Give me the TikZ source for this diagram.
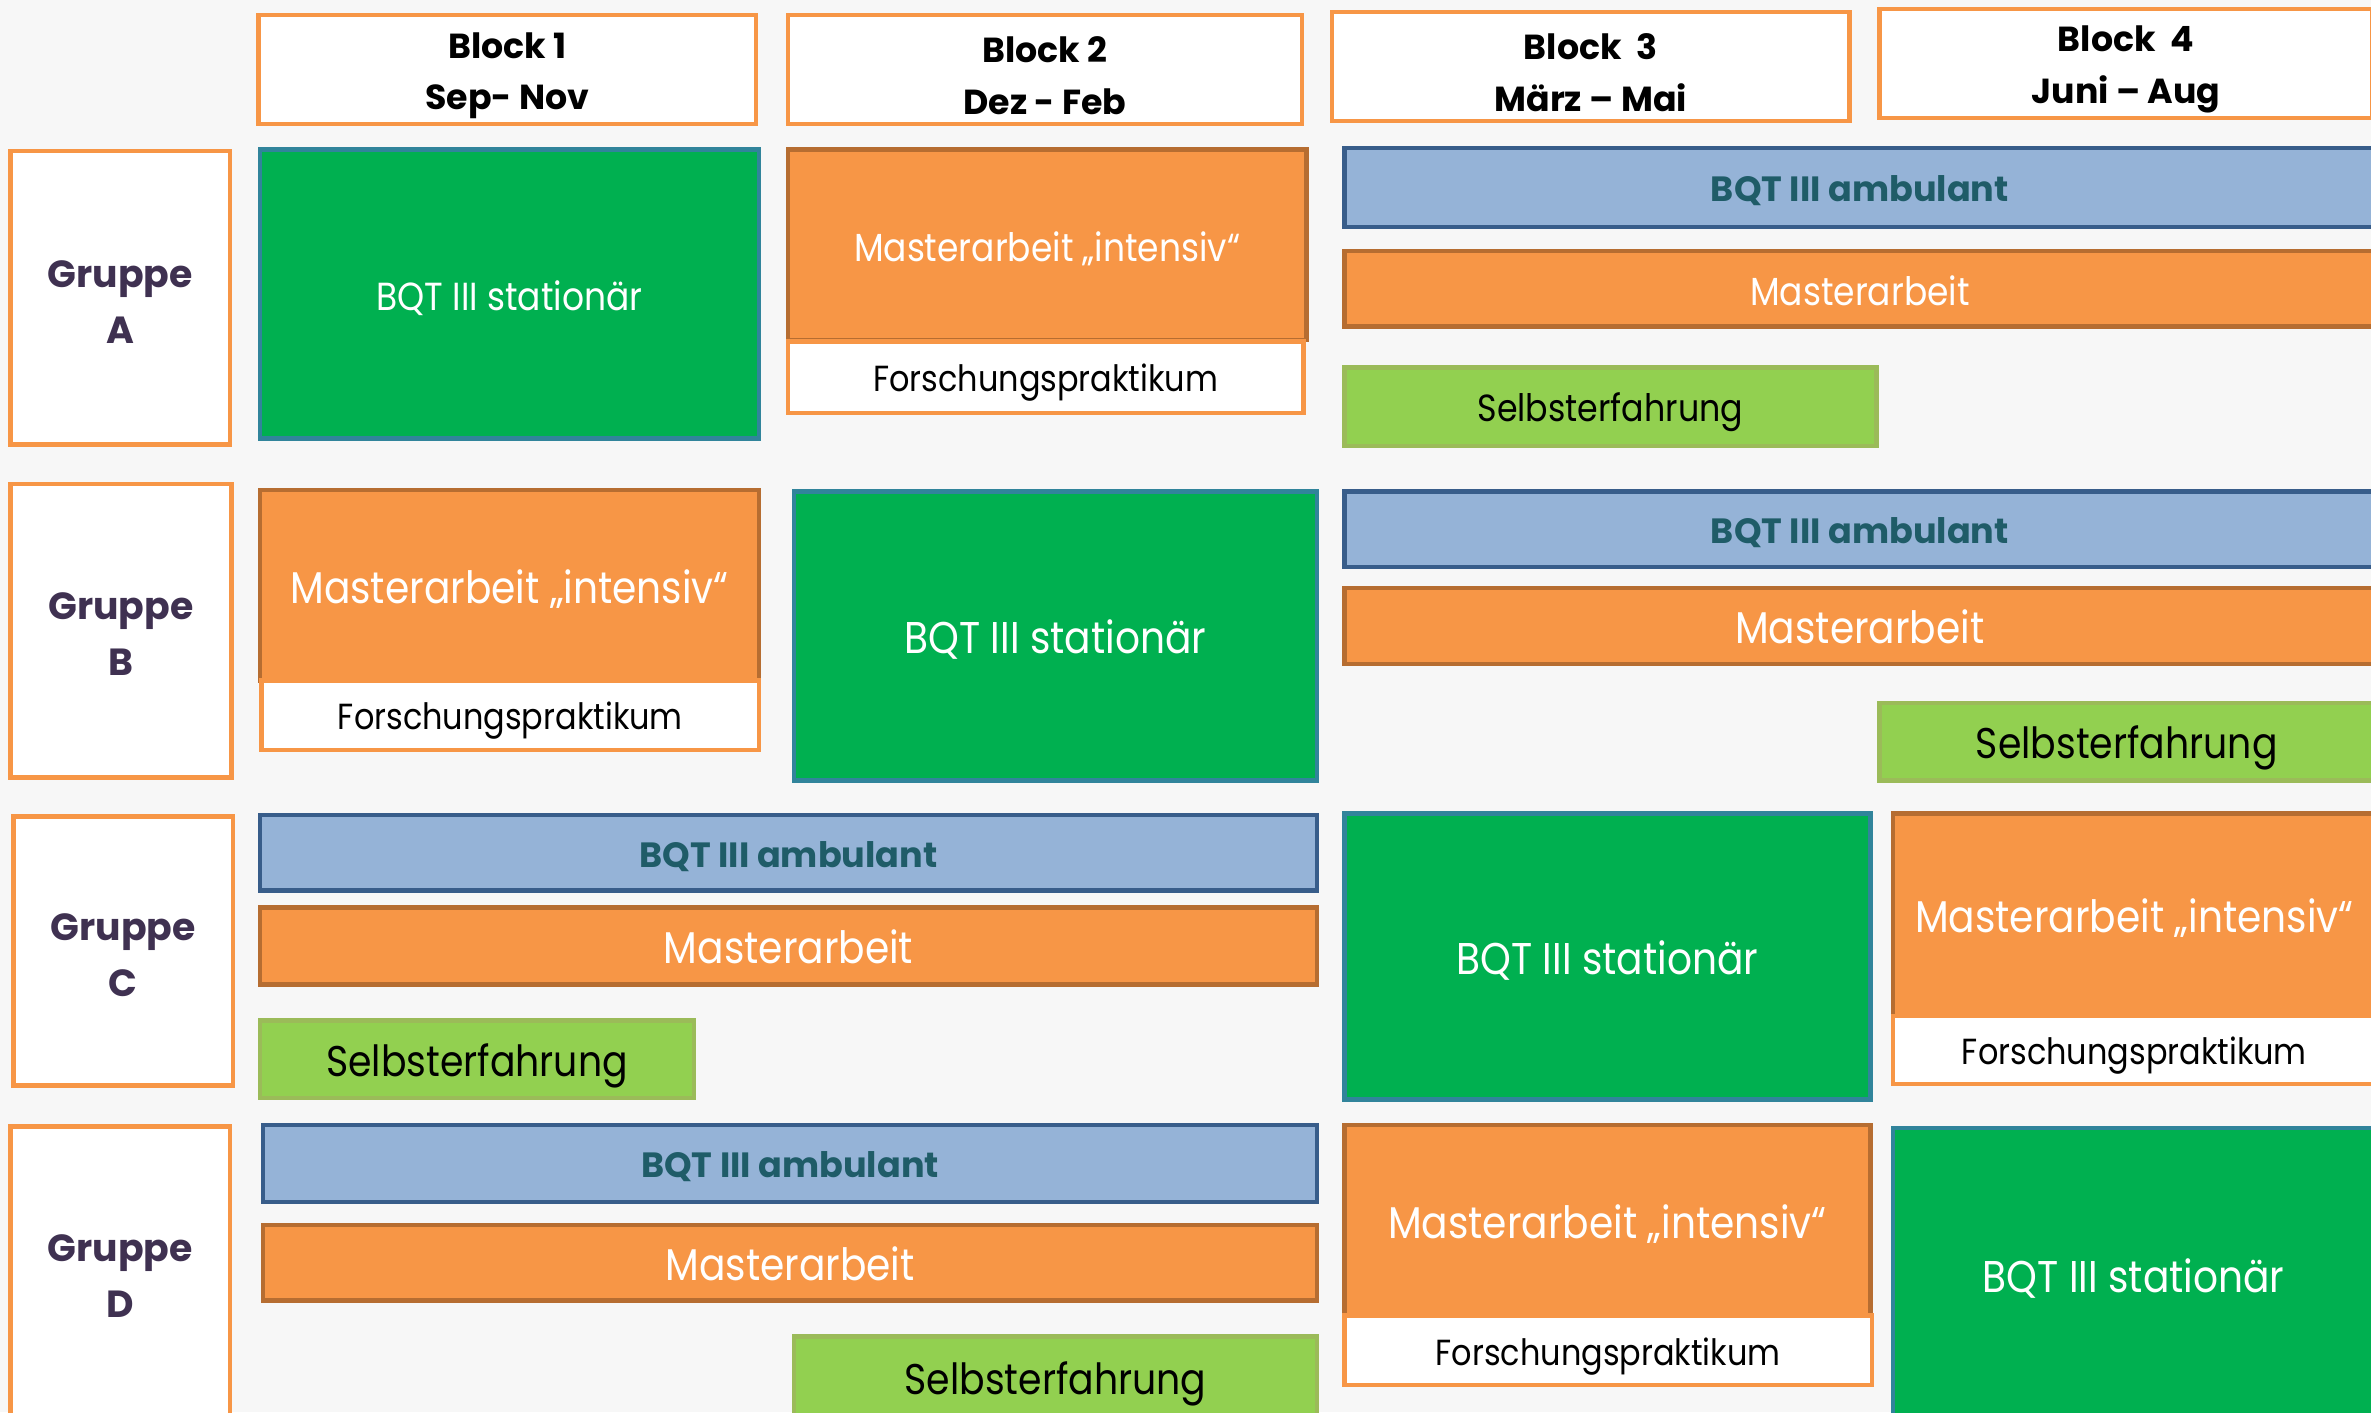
\documentclass[tikz,border=0pt]{standalone}
\usepackage{fontspec}
\setmainfont{Poppins}[FakeStretch=0.88]
\newfontfamily\boldfam{Poppins}
\definecolor{bgcol}{HTML}{F7F7F7}
\definecolor{hdorange}{HTML}{F79646}
\definecolor{grptext}{HTML}{3F3151}
\definecolor{statfill}{HTML}{00B050}
\definecolor{statline}{HTML}{31849B}
\definecolor{orfill}{HTML}{F79646}
\definecolor{orline}{HTML}{B66D31}
\definecolor{ambfill}{HTML}{95B3D7}
\definecolor{ambline}{HTML}{385D8A}
\definecolor{ambtext}{HTML}{1F5C68}
\definecolor{sefill}{HTML}{92D050}
\definecolor{seline}{HTML}{9BBB59}

\newcommand{\toprule}[1]{\rule{0pt}{#1pt}}

\tikzset{
  every node/.style={inner sep=0pt, outer sep=0pt, align=center},
  wh/.style 2 args={minimum width=#1pt, minimum height=#2pt, anchor=north west},
  oneline/.style={text depth=0pt, text height=#1pt},
  hdbox/.style={draw=hdorange, fill=white, line width=3pt,
    font=\boldfam\bfseries\fontsize{23}{34}\selectfont},
  grpbox/.style={draw=hdorange, fill=white, line width=3pt, text=grptext,
    font=\boldfam\bfseries\fontsize{25}{37}\selectfont},
  statbox/.style={draw=statline, fill=statfill, line width=3pt, text=white},
  intbox/.style={draw=orline, fill=orfill, line width=3pt, text=white},
  fpbox/.style={draw=hdorange, fill=white, line width=3pt, oneline=19.4,
    font=\fontsize{24}{28}\selectfont},
  ambbox/.style={draw=ambline, fill=ambfill, line width=3pt, text=ambtext, oneline=19,
    font=\boldfam\bfseries\fontsize{23.2}{26}\selectfont},
  mabox/.style={draw=orline, fill=orfill, line width=3pt, text=white},
  sebox/.style={draw=seline, fill=sefill, line width=3pt, oneline=22.3,
    font=\fontsize{28.4}{32}\selectfont},
  big/.style={oneline=23.6, font=\fontsize{29.4}{32}\selectfont},
  small/.style={oneline=21.6, font=\fontsize{25.9}{30}\selectfont}
}

\begin{document}
\begin{tikzpicture}[x=1pt, y=-1pt]
  \fill[bgcol] (0,0) rectangle (1568,934);
  \useasboundingbox (0,0) rectangle (1568,934);
  \clip (0,0) rectangle (1568,934);

  % Bloecke
  \node[hdbox, wh={329}{72}] (blk1) at (171,10) {\toprule{25}Block 1\\Sep- Nov};
  \node[hdbox, wh={340}{72}] (blk2) at (521,10) {\toprule{25}Block 2\\Dez - Feb};
  \node[hdbox, wh={342}{72}] (blk3) at (881,8) {\toprule{25}Block~~3\\März – Mai};
  \node[hdbox, wh={326}{72}] (blk4) at (1243,6) {\toprule{25}Block~~4\\Juni – Aug};

  % Gruppen
  \node[grpbox, wh={145}{194}] (grpA) at (7,100) {\toprule{23}Gruppe\\A};
  \node[grpbox, wh={146}{194}] (grpB) at (7,320) {\toprule{23}Gruppe\\B};
  \node[grpbox, wh={145}{178}] (grpC) at (9,540) {\toprule{23}Gruppe\\C};
  \node[grpbox, wh={145}{193}] (grpD) at (7,745) {\toprule{23}Gruppe\\D};

  % Gruppe A
  \node[statbox, small, wh={330}{191}] (statA) at (172,99) {BQT III stationär};
  \node[intbox, small, wh={343}{126}] (intA) at (521,99) {Masterarbeit „intensiv“};
  \node[fpbox, wh={341}{47}] (fpA) at (521,226) {Forschungspraktikum};
  \node[ambbox, wh={682}{52}] (ambA) at (889,98) {BQT III ambulant};
  \node[mabox, small, wh={682}{50}] (maA) at (889,166) {Masterarbeit};
  \node[sebox, oneline=19.5, font=\fontsize{25}{30}\selectfont, wh={352}{52}] (seA) at (889,243) {Selbsterfahrung};

  % Gruppe B
  \node[intbox, big, wh={330}{126}] (intB) at (172,324) {Masterarbeit „intensiv“};
  \node[fpbox, wh={329}{46}] (fpB) at (173,450) {Forschungspraktikum};
  \node[statbox, big, wh={346}{191}] (statB) at (525,325) {BQT III stationär};
  \node[ambbox, wh={682}{50}] (ambB) at (889,325) {BQT III ambulant};
  \node[mabox, big, wh={682}{50}] (maB) at (889,389) {Masterarbeit};
  \node[sebox, wh={327}{51}] (seB) at (1243,465) {Selbsterfahrung};

  % Gruppe C
  \node[ambbox, wh={699}{50}] (ambC) at (172,539) {BQT III ambulant};
  \node[mabox, big, wh={699}{51}] (maC) at (172,600) {Masterarbeit};
  \node[sebox, wh={287}{51}] (seC) at (172,675) {Selbsterfahrung};
  \node[statbox, big, wh={348}{189}] (statC) at (889,538) {BQT III stationär};
  \node[intbox, big, wh={319}{134}] (intC) at (1252,538) {Masterarbeit „intensiv“};
  \node[fpbox, wh={319}{45}] (fpC) at (1252,672) {Forschungspraktikum};

  % Gruppe D
  \node[ambbox, wh={697}{51}] (ambD) at (174,744) {BQT III ambulant};
  \node[mabox, big, wh={697}{50}] (maD) at (174,810) {Masterarbeit};
  \node[sebox, wh={346}{54}] (seD) at (525,884) {Selbsterfahrung};
  \node[intbox, big, wh={348}{126}] (intD) at (889,744) {Masterarbeit „intensiv“};
  \node[fpbox, wh={349}{46}] (fpD) at (889,870) {Forschungspraktikum};
  \node[statbox, big, wh={318}{194}] (statD) at (1252,746) {BQT III stationär};
\end{tikzpicture}
\end{document}
